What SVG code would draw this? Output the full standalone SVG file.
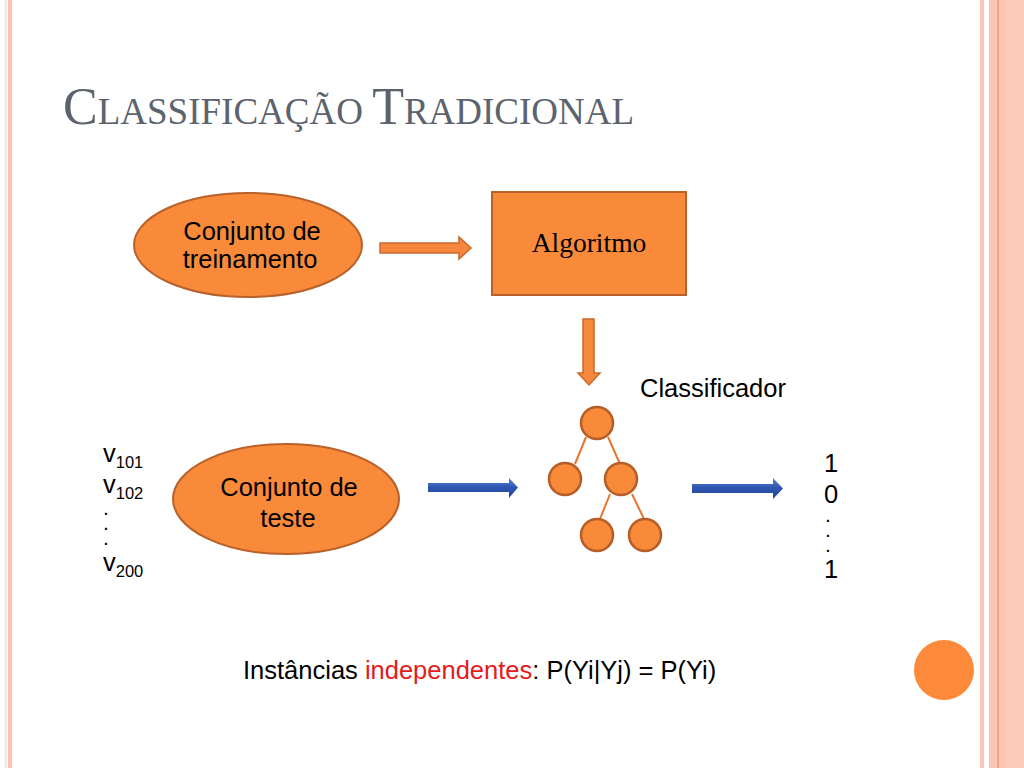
<svg xmlns="http://www.w3.org/2000/svg" width="1024" height="768" viewBox="0 0 1024 768">
<defs>
<linearGradient id="blue" x1="0" y1="0" x2="0" y2="1">
<stop offset="0" stop-color="#5B86D4"/>
<stop offset="0.45" stop-color="#2F57B2"/>
<stop offset="1" stop-color="#22439A"/>
</linearGradient>
</defs>
<style>
.sans{font-family:"Liberation Sans",Arial,sans-serif;fill:#000}
.serif{font-family:"Liberation Serif","Times New Roman",serif}
.shape{fill:#F98A3A;stroke:#B9612A;stroke-width:2}
.tnode{fill:#F98A3A;stroke:#B55E27;stroke-width:2.5}
.tline{stroke:#E8742E;stroke-width:2;fill:none}
.oarrow{fill:#F5883D;stroke:#C9692C;stroke-width:1.5}
.barrow{fill:url(#blue)}
.dot{font-size:14px;font-weight:bold}
</style>
<rect width="1024" height="768" fill="#FFFFFF"/>
<g id="borders">
<rect x="5" y="0" width="1.5" height="768" fill="#F7DCCB"/>
<rect x="8" y="0" width="4" height="768" fill="#FEC2B3"/>
<rect x="980" y="0" width="4" height="768" fill="#FAC7B6"/>
<rect x="989" y="0" width="35" height="768" fill="#FAC6B3"/>
<rect x="1006" y="0" width="18" height="768" fill="#FCCAB8"/>
<rect x="997.5" y="0" width="1.2" height="768" fill="#E0936E"/>
</g>
<text class="serif" x="63" y="124" fill="#5C636E"><tspan font-size="52">C</tspan><tspan font-size="37">LASSIFICAÇÃO </tspan><tspan font-size="52">T</tspan><tspan font-size="37">RADICIONAL</tspan></text>
<g id="connectors">
<polygon class="oarrow" points="380,243 459,243 459,237 471,248 459,259 459,253 380,253"/>
<polygon class="oarrow" points="583,319 594,319 594,373 600,373 589,385 578,373 583,373"/>
<polygon class="barrow" points="428,483 509,483 509,478 518,487.5 509,498 509,492 428,492"/>
<polygon class="barrow" points="692,484 773,484 773,478 783,488.5 773,499 773,493 692,493"/>
<line class="tline" x1="586" y1="437" x2="575" y2="464"/>
<line class="tline" x1="608" y1="437" x2="620" y2="464"/>
<line class="tline" x1="610" y1="494" x2="600" y2="519"/>
<line class="tline" x1="632" y1="494" x2="644" y2="519"/>
</g>
<g id="treinamento">
<ellipse class="shape" cx="248" cy="245" rx="114" ry="52"/>
<text class="sans" font-size="25.5" text-anchor="middle"><tspan x="252" y="240">Conjunto de</tspan><tspan x="250" y="268">treinamento</tspan></text>
</g>
<g id="algoritmo">
<rect class="shape" x="492" y="192" width="194" height="103"/>
<text class="serif" font-size="27.5" x="589" y="252" text-anchor="middle" fill="#000">Algoritmo</text>
</g>
<g id="classificador">
<text class="sans" font-size="25.5" x="640" y="397">Classificador</text>
<g id="tree-root"><circle class="tnode" cx="597" cy="423" r="16"/></g>
<g id="tree-left"><circle class="tnode" cx="565" cy="479" r="16"/></g>
<g id="tree-right"><circle class="tnode" cx="621" cy="479" r="16"/></g>
<g id="tree-rl"><circle class="tnode" cx="597" cy="535" r="16"/></g>
<g id="tree-rr"><circle class="tnode" cx="645" cy="535" r="16"/></g>
</g>
<g id="teste">
<ellipse class="shape" cx="286" cy="499" rx="113" ry="55"/>
<text class="sans" font-size="25.5" text-anchor="middle"><tspan x="289" y="496">Conjunto de</tspan><tspan x="288" y="527">teste</tspan></text>
</g>
<g id="instancias" class="sans" font-size="25.5">
<text x="103" y="462">v<tspan font-size="16.5" dy="6">101</tspan></text>
<text x="103" y="493">v<tspan font-size="16.5" dy="6">102</tspan></text>
<text class="dot" x="104" y="515">.</text>
<text class="dot" x="104" y="530">.</text>
<text class="dot" x="104" y="545">.</text>
<text x="103" y="571">v<tspan font-size="16.5" dy="6">200</tspan></text>
</g>
<g id="saida" class="sans" font-size="25.5">
<text x="824" y="472">1</text>
<text x="824" y="503">0</text>
<text class="dot" x="826" y="522">.</text>
<text class="dot" x="826" y="537">.</text>
<text class="dot" x="826" y="552">.</text>
<text x="824" y="578">1</text>
</g>
<text class="sans" font-size="25.5" x="243" y="679">Instâncias <tspan fill="#E31B1B">independentes</tspan>: P(Yi|Yj) = P(Yi)</text>
<circle cx="944" cy="670" r="30" fill="#FD8A3B"/>
</svg>
